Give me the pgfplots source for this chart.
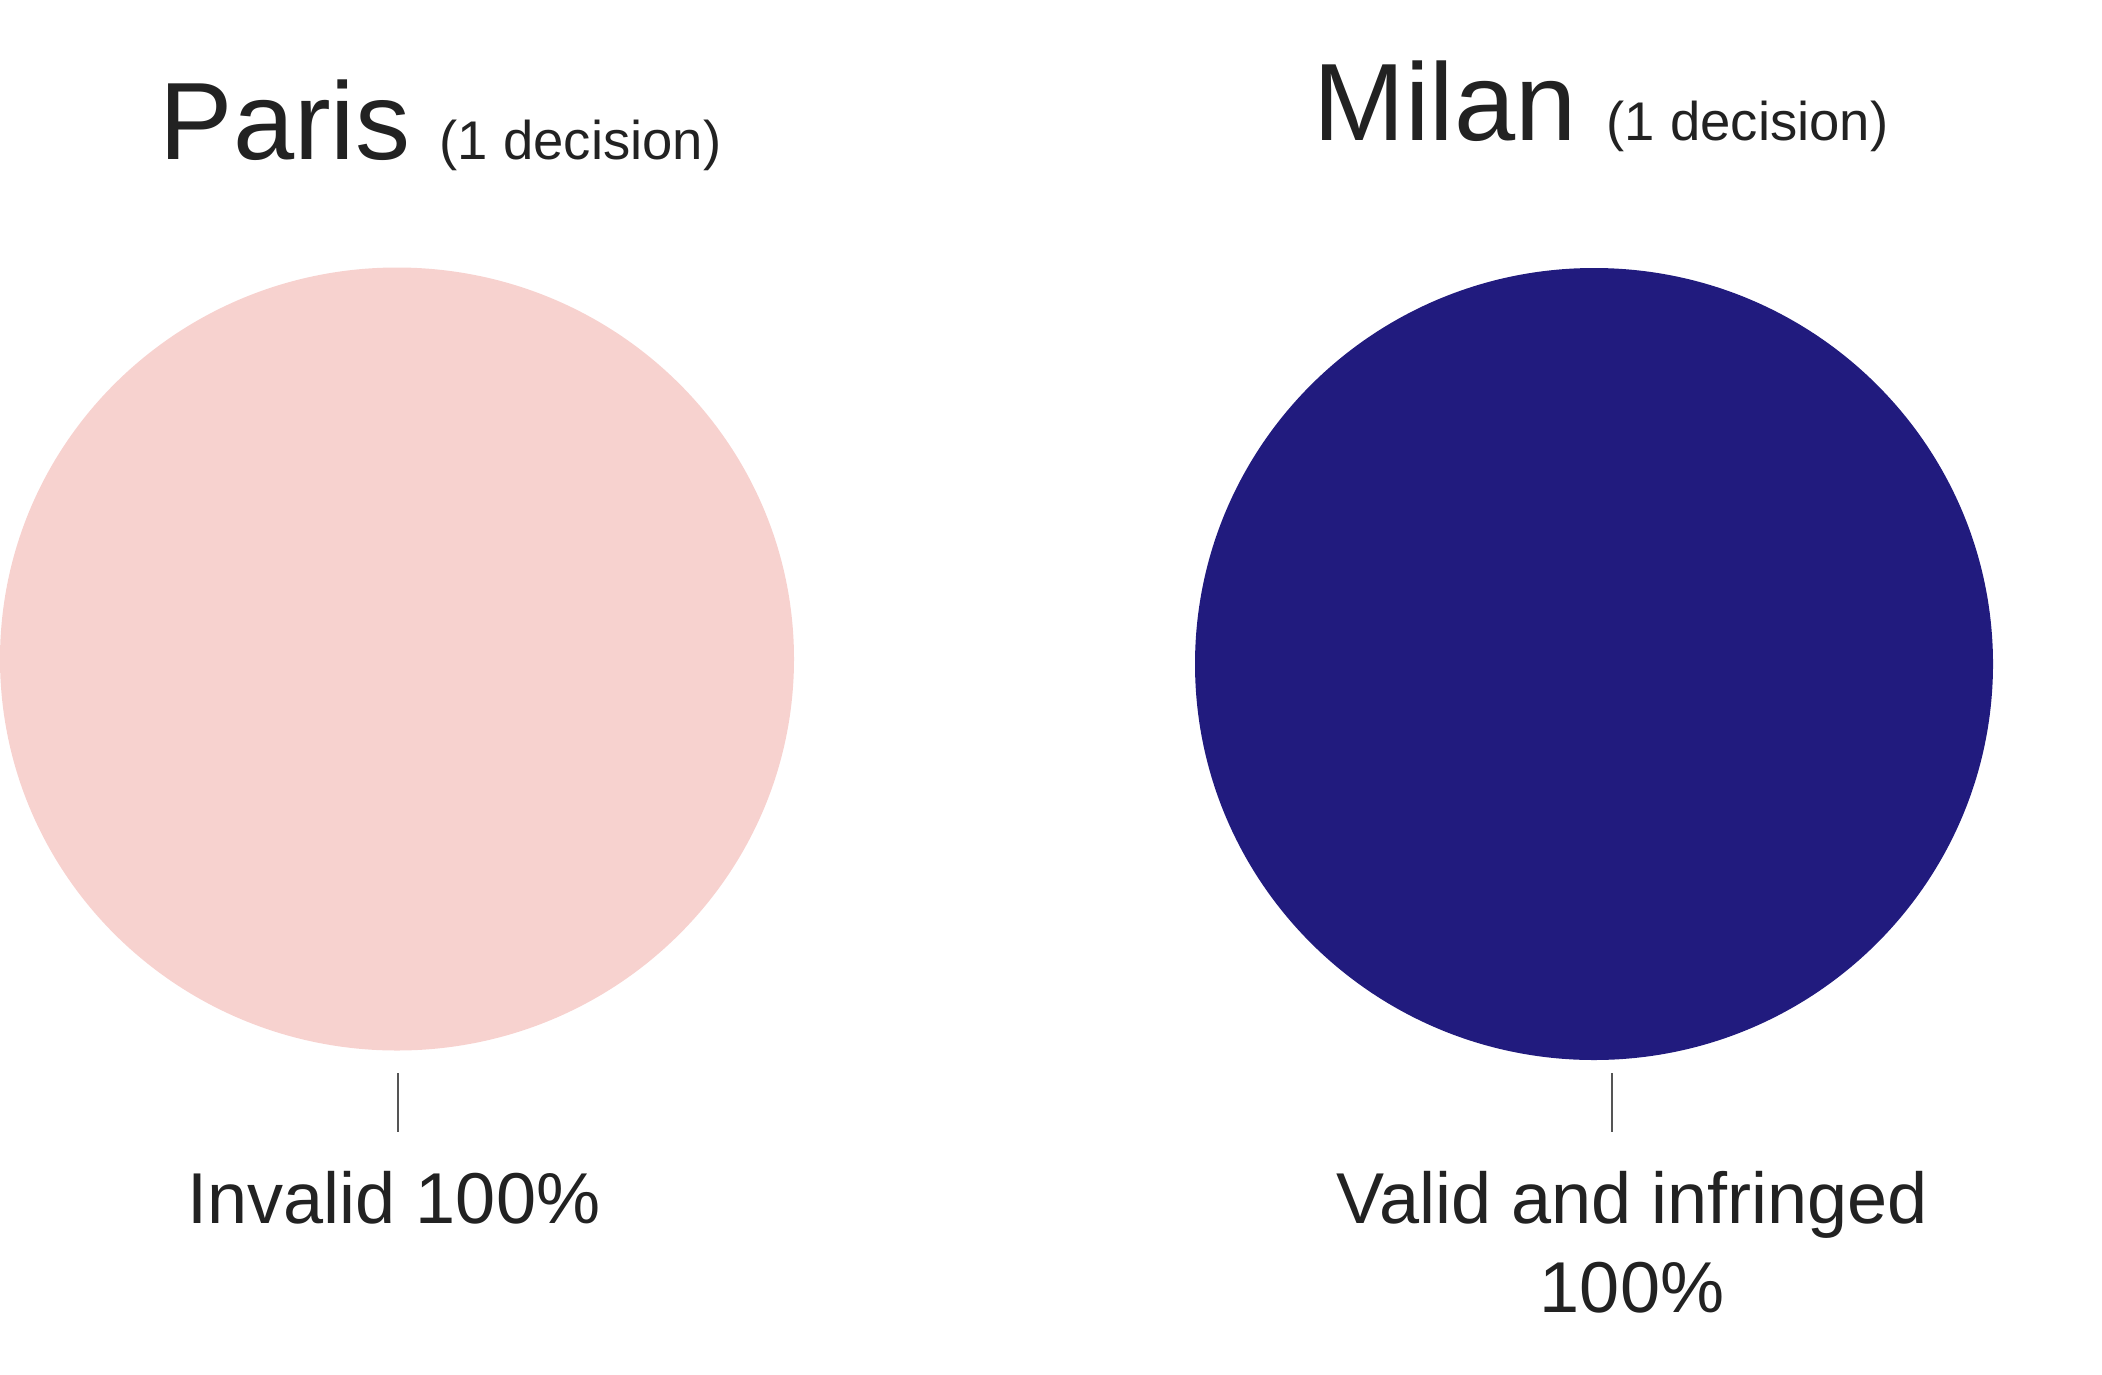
\documentclass[border=0pt]{standalone}
\usepackage{pgfplots}
\pgfplotsset{compat=1.18}
\usepackage{fontspec}
\setmainfont{Liberation Sans}
\definecolor{pinkc}{HTML}{F7D2CF}
\definecolor{navyc}{HTML}{211B7E}
\definecolor{txt}{HTML}{222222}
\definecolor{lead}{HTML}{555555}
\begin{document}
\begin{tikzpicture}
\begin{axis}[
  width=21.02cm, height=13.74cm, scale only axis,
  xmin=0, xmax=2102, ymin=0, ymax=1374, y dir=reverse,
  hide axis, clip=false,
]
\path (rel axis cs:0,0) (rel axis cs:1,1);
% Paris: Invalid 100% (one slice covering the whole pie)
\fill[pinkc] (axis cs:397,659) ellipse [x radius=39.7mm, y radius=39.15mm];
% Milan: Valid and infringed 100% (one slice covering the whole pie)
\fill[navyc] (axis cs:1594,664) ellipse [x radius=39.9mm, y radius=39.6mm];

\node[anchor=base west, inner sep=0, text=txt, font=\fontsize{31.3}{36}\selectfont] at (axis cs:159,159) {Paris};
\node[anchor=base west, inner sep=0, text=txt, font=\fontsize{15.5}{18}\selectfont] at (axis cs:439,159) {(1 decision)};
\node[anchor=base west, inner sep=0, text=txt, font=\fontsize{31.3}{36}\selectfont] at (axis cs:1313,140) {Milan};
\node[anchor=base west, inner sep=0, text=txt, font=\fontsize{15.5}{18}\selectfont] at (axis cs:1606,140) {(1 decision)};

\draw[lead, line width=0.15mm] (axis cs:398,1073) -- (axis cs:398,1132);
\draw[lead, line width=0.15mm] (axis cs:1612,1073) -- (axis cs:1612,1132);

\node[anchor=base, inner sep=0, text=txt, font=\fontsize{20.5}{25}\selectfont] at (axis cs:394,1223) {Invalid 100\%};
\node[anchor=base, inner sep=0, text=txt, font=\fontsize{20.5}{25}\selectfont] at (axis cs:1632,1223) {Valid and infringed};
\node[anchor=base, inner sep=0, text=txt, font=\fontsize{20.5}{25}\selectfont] at (axis cs:1632,1312) {100\%};
\end{axis}
\end{tikzpicture}
\end{document}
